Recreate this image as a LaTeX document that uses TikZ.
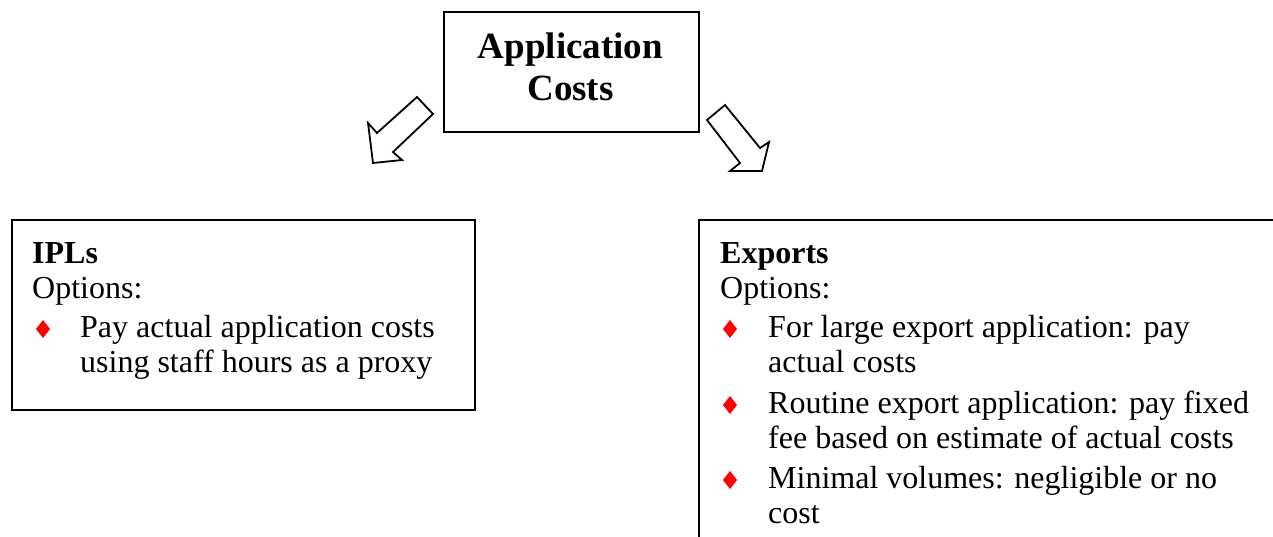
\documentclass[tikz,border=0pt]{standalone}
\usepackage{fontspec}
\setmainfont{Liberation Serif}
\begin{document}
\begin{tikzpicture}[x=1pt,y=-1pt,
  box/.style={draw,line width=1.8pt,inner sep=0pt,anchor=north west},
  txt/.style={anchor=base west,inner sep=0pt,font=\fontsize{32}{35}\selectfont},
  head/.style={txt,font=\fontsize{32}{35}\selectfont\bfseries},
  title/.style={anchor=base,inner sep=0pt,font=\fontsize{37}{42}\selectfont\bfseries},
  blockarrow/.style={draw,line width=1.8pt,line join=miter,fill=white},
  bullet/.pic={\fill[red] (0,-9) -- (7,0) -- (0,9) -- (-7,0) -- cycle;}]
\useasboundingbox (0,0) rectangle (1273,536);
\clip (0,0) rectangle (1273,536);

% boxes
\node[box,minimum width=255pt,minimum height=120pt] (top) at (443,11) {};
\node[box,minimum width=463pt,minimum height=190pt] (ipl) at (11,219) {};
\node[box,minimum width=620pt,minimum height=360pt] (exp) at (698,219) {};

% title
\node[title] (t1) at (570.5,58) {Application};
\node[title] (t2) at (570.5,100) {Costs};

% block arrows
\draw[blockarrow] (417,97) -- (433,114) -- (393,152) -- (402,160) -- (373,163) -- (368,123) -- (377,133) -- cycle;
\draw[blockarrow] (725,105) -- (707,120) -- (740,163) -- (730,171) -- (762,171) -- (769,142) -- (760,148) -- cycle;

% IPLs
\node[head] (ih) at (32,263) {IPLs};
\node[txt] (io) at (32,298) {Options:};
\pic at (43,329) {bullet};
\node[txt] (i1a) at (80,337) {Pay actual application costs};
\node[txt] (i1b) at (80,372) {using staff hours as a proxy};

% Exports
\node[head] (eh) at (720,263) {Exports};
\node[txt] (eo) at (720,298) {Options:};
\pic at (730,329) {bullet};
\node[txt] (e1a) at (768,337) {For large export application: pay};
\node[txt] (e1b) at (768,372) {actual costs};
\pic at (730,405) {bullet};
\node[txt] (e2a) at (768,413) {Routine export application: pay fixed};
\node[txt] (e2b) at (768,448) {fee based on estimate of actual costs};
\pic at (730,480) {bullet};
\node[txt] (e3a) at (768,488) {Minimal volumes: negligible or no};
\node[txt] (e3b) at (768,523) {cost};
\end{tikzpicture}
\end{document}
